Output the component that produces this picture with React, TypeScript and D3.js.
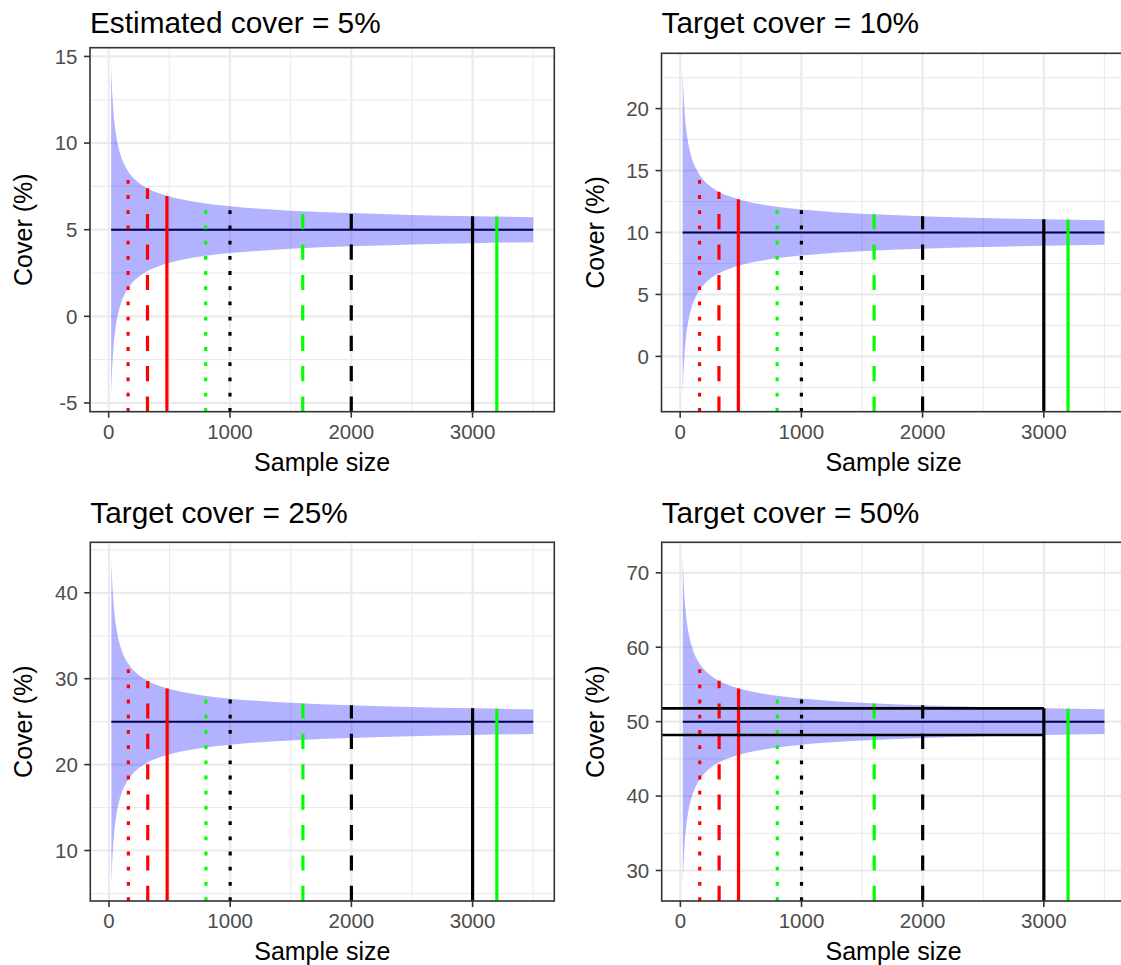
import React from "react";
import * as d3 from "d3";

const sampleSizes = [20, 25, 30, 35, 40, 50, 60, 70, 85, 100, 125, 150, 200, 250, 300, 400, 500, 650, 800, 1000, 1250, 1500, 2000, 2500, 3000, 3500];

// half width of the blue band (cover %, +/-) for each panel
const halfWidth5 = [9.55, 8.54, 7.8, 7.22, 6.75, 6.04, 5.52, 5.11, 4.63, 4.27, 3.82, 3.49, 3.02, 2.7, 2.47, 2.14, 1.91, 1.68, 1.51, 1.35, 1.21, 1.1, 0.96, 0.85, 0.78, 0.72];
const halfWidth10 = [13.15, 11.76, 10.74, 9.94, 9.3, 8.32, 7.59, 7.03, 6.38, 5.88, 5.26, 4.8, 4.16, 3.72, 3.4, 2.94, 2.63, 2.31, 2.08, 1.86, 1.66, 1.52, 1.32, 1.18, 1.07, 0.99];
const halfWidth25 = [18.98, 16.97, 15.5, 14.35, 13.42, 12.0, 10.96, 10.14, 9.21, 8.49, 7.59, 6.93, 6.0, 5.37, 4.9, 4.24, 3.8, 3.33, 3.0, 2.68, 2.4, 2.19, 1.9, 1.7, 1.55, 1.44];
const halfWidth50 = [21.91, 19.6, 17.89, 16.57, 15.5, 13.86, 12.65, 11.71, 10.63, 9.8, 8.77, 8.0, 6.93, 6.2, 5.66, 4.9, 4.38, 3.84, 3.47, 3.1, 2.77, 2.53, 2.19, 1.96, 1.79, 1.66];

const targets = [5, 10, 25, 50];
const titles = ["Estimated cover = 5%", "Target cover = 10%", "Target cover = 25%", "Target cover = 50%"];
const halfWidths = [halfWidth5, halfWidth10, halfWidth25, halfWidth50];

// vertical reference lines
const markerSizes = [160, 320, 480, 800, 1000, 1600, 2000, 3000, 3200];
const markerColours = ["#ff0000", "#ff0000", "#ff0000", "#00ff00", "#000000", "#00ff00", "#000000", "#000000", "#00ff00"];
const markerTypes = ["dotted", "dashed", "solid", "dotted", "dotted", "dashed", "dashed", "solid", "solid"];
const markerTops5 = [8.38, 7.39, 6.95, 6.51, 6.35, 6.07, 5.96, 5.78, 5.76];
const markerTops10 = [14.65, 13.29, 12.68, 12.08, 11.86, 11.47, 11.31, 11.07, 11.04];
const markerTops25 = [31.71, 29.74, 28.87, 28.0, 27.68, 27.12, 26.9, 26.55, 26.5];
const markerTops50 = [57.75, 55.48, 54.47, 53.46, 53.1, 52.45, 52.19, 51.79, 51.73];
const markerTops = [markerTops5, markerTops10, markerTops25, markerTops50];

// box drawn in the 50% panel only
const boxSize = 3000;
const boxBounds = [48.21, 51.79];

const xTicks = [0, 1000, 2000, 3000];
const xMinor = [500, 1500, 2500, 3500];

const dashes: Record<string, string | undefined> = {
  dotted: "3.8 11.4",
  dashed: "15.2 15.2",
  solid: undefined,
};

const FONT = "'Liberation Sans', Arial, sans-serif";

// plot area boxes (left, top, right, bottom) + title baseline
const layout = [
  { l: 90, t: 47.7, r: 554.3, b: 411.7, ty: 33.3 },
  { l: 661.5, t: 53.3, r: 1125.5, b: 411.7, ty: 33.3 },
  { l: 90.3, t: 542.3, r: 554.3, b: 901, ty: 522.7 },
  { l: 661.7, t: 542.3, r: 1125.5, b: 901, ty: 522.7 },
];

const expand = (lo: number, hi: number) => {
  const pad = (hi - lo) * 0.05;
  return [lo - pad, hi + pad];
};

const Panel = ({ idx }: { idx: number }) => {
  const box = layout[idx];
  const target = targets[idx];
  const hw = halfWidths[idx];
  const data = sampleSizes.map((n, i) => ({ n, lo: target - hw[i], hi: target + hw[i] }));

  const x = d3.scaleLinear()
    .domain(expand(d3.min(sampleSizes)!, d3.max(sampleSizes)!))
    .range([box.l, box.r]);
  const y = d3.scaleLinear()
    .domain(expand(d3.min(data, d => d.lo)!, d3.max(data, d => d.hi)!))
    .range([box.b, box.t]);

  const yTicks = y.ticks(5);
  const step = yTicks[1] - yTicks[0];
  const yMinor = [yTicks[0] - step / 2, ...yTicks.map(v => v + step / 2)]
    .filter(v => v > y.domain()[0] && v < y.domain()[1]);

  const area = d3.area<{ n: number; lo: number; hi: number }>()
    .x(d => x(d.n))
    .y0(d => y(d.lo))
    .y1(d => y(d.hi))
    .curve(d3.curveMonotoneX);

  const tops = markerTops[idx];
  const cx = (box.l + box.r) / 2;
  const cy = (box.t + box.b) / 2;

  return (
    <g>
      <clipPath id={"clip" + idx}>
        <rect x={box.l} y={box.t} width={box.r - box.l} height={box.b - box.t} />
      </clipPath>
      <g clipPath={`url(#clip${idx})`}>
        {yMinor.map(v => (
          <line key={"ym" + v} x1={box.l} x2={box.r} y1={y(v)} y2={y(v)} stroke="#ebebeb" strokeWidth={1.1} />
        ))}
        {xMinor.map(v => (
          <line key={"xm" + v} x1={x(v)} x2={x(v)} y1={box.t} y2={box.b} stroke="#ebebeb" strokeWidth={1.1} />
        ))}
        {yTicks.map(v => (
          <line key={"yg" + v} x1={box.l} x2={box.r} y1={y(v)} y2={y(v)} stroke="#ebebeb" strokeWidth={2.2} />
        ))}
        {xTicks.map(v => (
          <line key={"xg" + v} x1={x(v)} x2={x(v)} y1={box.t} y2={box.b} stroke="#ebebeb" strokeWidth={2.2} />
        ))}

        <line x1={x(sampleSizes[0])} x2={x(sampleSizes[sampleSizes.length - 1])} y1={y(target)} y2={y(target)} stroke="#000" strokeWidth={2} />
        <path d={area(data) || ""} fill="rgba(0,0,255,0.3)" />

        {markerSizes.map((n, i) => (
          <line key={"mk" + n} x1={x(n)} x2={x(n)} y1={box.b} y2={y(tops[i])}
            stroke={markerColours[i]} strokeWidth={3.2} strokeDasharray={dashes[markerTypes[i]]} />
        ))}

        {idx === 3 && (
          <g stroke="#000" strokeWidth={2.6} fill="none">
            {boxBounds.map(v => (
              <line key={"bx" + v} x1={box.l} x2={x(boxSize)} y1={y(v)} y2={y(v)} />
            ))}
          </g>
        )}
      </g>

      <rect x={box.l} y={box.t} width={box.r - box.l} height={box.b - box.t} fill="none" stroke="#333333" strokeWidth={1.6} />

      {xTicks.map(v => (
        <g key={"xt" + v}>
          <line x1={x(v)} x2={x(v)} y1={box.b} y2={box.b + 6} stroke="#333333" strokeWidth={1.6} />
          <text x={x(v)} y={box.b + 27} textAnchor="middle" fontSize={20.5} fill="#4d4d4d" fontFamily={FONT}>{v}</text>
        </g>
      ))}
      {yTicks.map(v => (
        <g key={"yt" + v}>
          <line x1={box.l - 6} x2={box.l} y1={y(v)} y2={y(v)} stroke="#333333" strokeWidth={1.6} />
          <text x={box.l - 12.5} y={y(v)} dy="0.36em" textAnchor="end" fontSize={20.5} fill="#4d4d4d" fontFamily={FONT}>{v}</text>
        </g>
      ))}

      <text x={box.l} y={box.ty} fontSize={29.8} fill="#000" fontFamily={FONT}>{titles[idx]}</text>
      <text x={cx} y={box.b + 59} textAnchor="middle" fontSize={25} fill="#000" fontFamily={FONT}>Sample size</text>
      <text transform={`translate(${box.l - 58},${cy}) rotate(-90)`} textAnchor="middle" fontSize={25} fill="#000" fontFamily={FONT}>Cover (%)</text>
    </g>
  );
};

export default function App() {
  return (
    <svg width={1121} height={965} style={{ position: "absolute", left: 0, top: 0, background: "#fff" }}>
      <rect width={1121} height={965} fill="#fff" />
      {targets.map((_, i) => <Panel key={i} idx={i} />)}
    </svg>
  );
}
